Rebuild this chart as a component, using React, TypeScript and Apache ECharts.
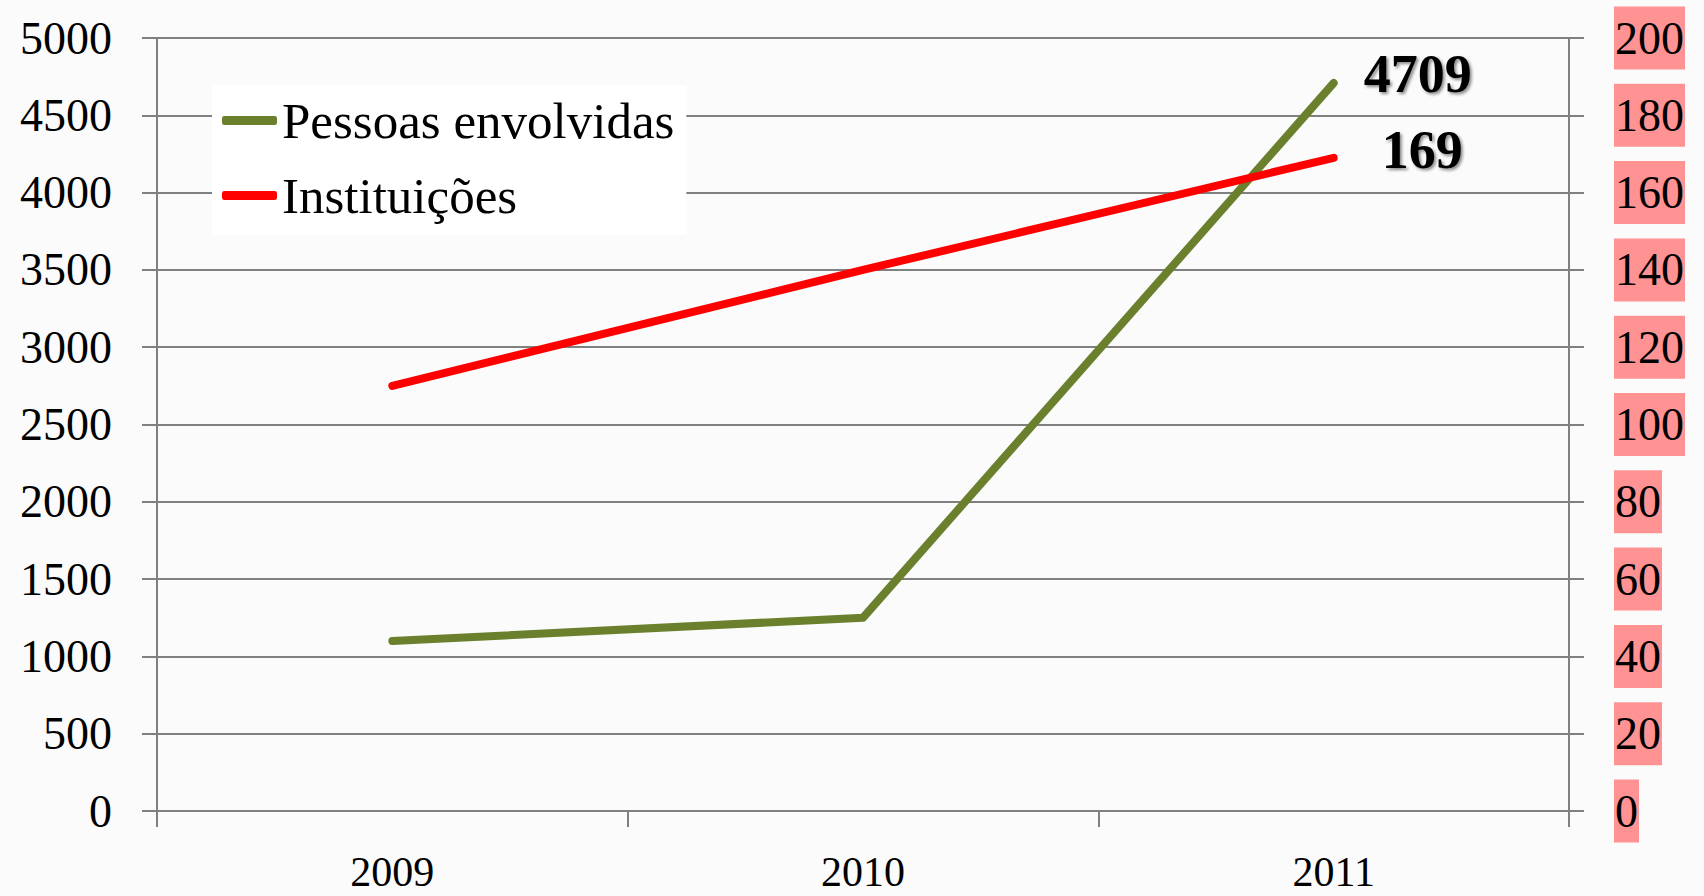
import React, { useEffect, useRef } from "react";
import * as echarts from "echarts";

const years = ["2009", "2010", "2011"];
const pessoas = [1100, 1250, 4709];
const instituicoes = [110, 140, 169];
const leftTicks = { min: 0, max: 5000, interval: 500 };
const rightTicks = { min: 0, max: 200, interval: 20 };

const FONT = "'Liberation Serif', serif";

export default function App() {
  const ref = useRef<HTMLDivElement>(null);
  useEffect(() => {
    if (!ref.current) return;
    const chart = echarts.init(ref.current, undefined, { renderer: "svg" });
    const gray = "#808080";
    const shadow = {
      textShadowColor: "rgba(0,0,0,0.45)",
      textShadowBlur: 3,
      textShadowOffsetX: 2,
      textShadowOffsetY: 2,
    };
    chart.setOption({
      animation: false,
      backgroundColor: "#fbfbfb",
      textStyle: { fontFamily: FONT },
      grid: { left: 157, right: 135, top: 38, bottom: 85, containLabel: false },
      legend: {
        orient: "vertical",
        left: 212,
        top: 85,
        backgroundColor: "#ffffff",
        padding: [10, 12, 14, 10],
        itemGap: 24,
        itemWidth: 55,
        itemHeight: 9,
        icon: "roundRect",
        textStyle: { fontFamily: FONT, fontSize: 51, color: "#000" },
        data: ["Pessoas envolvidas", "Instituições"],
      },
      xAxis: {
        type: "category",
        data: years,
        boundaryGap: true,
        axisLine: { show: true, lineStyle: { color: gray, width: 2 } },
        axisTick: { show: true, length: 16, lineStyle: { color: gray, width: 2 } },
        axisLabel: { fontFamily: FONT, fontSize: 42, color: "#000", margin: 40 },
      },
      yAxis: [
        {
          type: "value",
          ...leftTicks,
          axisLine: { show: true, lineStyle: { color: gray, width: 2 } },
          axisTick: { show: true, length: 15, lineStyle: { color: gray, width: 2 } },
          splitLine: { show: true, lineStyle: { color: gray, width: 2 } },
          axisLabel: {
            fontFamily: FONT,
            fontSize: 46,
            color: "#000",
            margin: 45,
            formatter: (v: number) => String(v),
          },
        },
        {
          type: "value",
          ...rightTicks,
          position: "right",
          axisLine: { show: true, lineStyle: { color: gray, width: 2 } },
          axisTick: { show: true, length: 15, lineStyle: { color: gray, width: 2 } },
          splitLine: { show: false },
          axisLabel: {
            fontFamily: FONT,
            fontSize: 46,
            color: "#000",
            margin: 45,
            backgroundColor: "#ff9393",
            padding: [9, 1, 8, 1],
            formatter: (v: number) => String(v),
          },
        },
      ],
      series: [
        {
          name: "Pessoas envolvidas",
          type: "line",
          yAxisIndex: 0,
          symbol: "circle",
          symbolSize: 0.1,
          color: "#6b802c",
          lineStyle: { color: "#6b802c", width: 8, cap: "round", join: "round" },
          itemStyle: { color: "#6b802c" },
          data: pessoas.map((v, i) =>
            i === pessoas.length - 1
              ? {
                  value: v,
                  label: {
                    show: true,
                    position: "right",
                    distance: 30,
                    offset: [0, -9],
                    fontFamily: FONT,
                    fontSize: 54,
                    fontWeight: "bold",
                    color: "#000",
                    ...shadow,
                  },
                }
              : v
          ),
        },
        {
          name: "Instituições",
          type: "line",
          yAxisIndex: 1,
          symbol: "circle",
          symbolSize: 0.1,
          color: "#ff0000",
          lineStyle: { color: "#ff0000", width: 8, cap: "round", join: "round" },
          itemStyle: { color: "#ff0000" },
          data: instituicoes.map((v, i) =>
            i === instituicoes.length - 1
              ? {
                  value: v,
                  label: {
                    show: true,
                    position: "right",
                    distance: 48,
                    offset: [0, -8],
                    fontFamily: FONT,
                    fontSize: 54,
                    fontWeight: "bold",
                    color: "#000",
                    ...shadow,
                  },
                }
              : v
          ),
        },
      ],
    });
    return () => chart.dispose();
  }, []);
  return (
    <div
      ref={ref}
      style={{ position: "fixed", left: 0, top: 0, width: 1704, height: 896 }}
    />
  );
}
